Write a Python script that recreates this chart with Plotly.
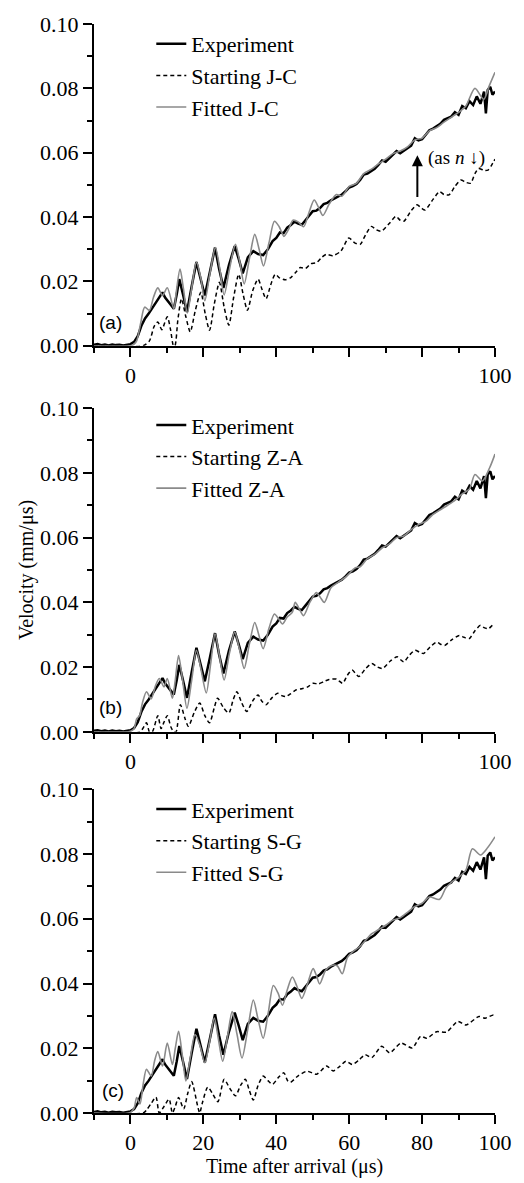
import plotly.graph_objects as go

# ---------------- data ----------------
# Experiment (same measured record in all three panels)
exp_t = [-10, -9, -8, -7, -6, -5, -4, -3, -2, -1, 0, 1, 2, 3, 4, 5, 6, 7, 8, 8.8, 9.5, 10.1, 11, 11.9,
         12.7, 13.4, 14.4, 15.5, 16.8, 18.1, 19.2, 20.4, 21.8, 23.2, 24.3, 25.5, 27, 28.6, 29.7, 30.8,
         32.2, 33.7, 35, 36.4, 37.7, 39,
         40, 41, 42, 43, 44, 45, 46, 47, 48, 49, 50, 51, 52, 53, 54, 55, 56, 57, 58, 59,
         60, 61, 62, 63, 64, 65, 66, 67, 68, 69, 70, 71, 72, 73, 74, 75, 76, 77, 78, 79,
         80, 81, 82, 83, 84, 85, 86, 87, 88, 89, 90, 91, 92, 93, 94, 95, 96, 97, 97.5, 98, 98.7, 99.3, 100]
exp_v = [0.0003, 0.0005, 0.0002, 0.0004, 0.0001, 0.0004, 0.0002, 0.0003, 0.0001, 0.0004, 0.0005,
         0.0012, 0.0030, 0.0062, 0.0085, 0.0100, 0.0118, 0.0135, 0.0150, 0.0166, 0.0150, 0.0142,
         0.0128, 0.0115, 0.0160, 0.0207, 0.0160, 0.0105, 0.0185, 0.0260, 0.0210, 0.0156, 0.0230,
         0.0305, 0.0240, 0.0180, 0.0250, 0.0310, 0.0270, 0.0225, 0.0275, 0.0294, 0.0285, 0.0282,
         0.0300, 0.0325,
         0.0335, 0.0352, 0.0350, 0.0367, 0.0375, 0.0386, 0.0380, 0.0376, 0.0390, 0.0405,
         0.0418, 0.0420, 0.0428, 0.0440, 0.0444, 0.0452, 0.0458, 0.0465, 0.0470, 0.0480,
         0.0492, 0.0496, 0.0503, 0.0515, 0.0532, 0.0535, 0.0542, 0.0550, 0.0562, 0.0576,
         0.0572, 0.0582, 0.0595, 0.0605, 0.0598, 0.0606, 0.0612, 0.0622, 0.0645, 0.0638,
         0.0642, 0.0658, 0.0670, 0.0675, 0.0683, 0.0690, 0.0702, 0.0708, 0.0712, 0.0726,
         0.0718, 0.0745, 0.0738, 0.0760, 0.0748, 0.0775, 0.0752, 0.0790, 0.0722, 0.0795,
         0.0805, 0.0780, 0.0790]

# (a) Johnson-Cook
start_jc_t = [-10, 3.5, 5.2, 6.5, 7.5, 8.6, 10.1, 11, 11.8, 12.2, 13, 14, 15.2, 16.4, 17.8, 19.3, 20.5,
              21.7, 23, 24.4, 25.7, 27, 28.3, 29.7, 30.9, 32.1, 33.5, 35, 36.1, 37.2, 38.5, 39.7, 41,
              42.5, 44, 45.5, 46.6, 48, 49.5, 51, 52.5, 53.7, 55.5, 57.7, 59.9, 61.5, 63, 64.5, 66.1,
              67.5, 68.8, 71, 72.8, 74, 75, 77, 78.6, 79.8, 80.8, 83, 84.8, 86, 87.4, 89, 90.6, 92,
              93.3, 94.5, 95.5, 97, 98.1, 99, 100]
start_jc_v = [0, 0, 0.0015, 0.0060, 0.0074, 0.0050, 0.0090, 0.0050, 0.0, 0.0, 0.0080, 0.0146, 0.0090,
              0.0043, 0.0110, 0.0166, 0.0100, 0.0048, 0.0130, 0.0197, 0.0120, 0.0064, 0.0150, 0.0222,
              0.0160, 0.0110, 0.0170, 0.0207, 0.0175, 0.0146, 0.0190, 0.0222, 0.0210, 0.0205, 0.0212,
              0.0230, 0.0243, 0.0240, 0.0255, 0.0258, 0.0275, 0.0284, 0.0280, 0.0294, 0.0335, 0.0320,
              0.0315, 0.0345, 0.0371, 0.0360, 0.0356, 0.0380, 0.0402, 0.0390, 0.0387, 0.0420, 0.0438,
              0.0428, 0.0422, 0.0455, 0.0479, 0.0470, 0.0469, 0.0495, 0.0515, 0.0508, 0.0505, 0.0535,
              0.0551, 0.0545, 0.0546, 0.0560, 0.0580]
fit_jc_t = [-10, 0, 1, 1.7, 2.8, 3.9, 5.2, 6.3, 7.5, 8.8, 10.1, 11.9, 12.6, 13.6, 14.5, 15.6, 16.8, 18.1,
            19.3, 20.4, 21.8, 23.3, 24.5, 25.7, 27.2, 28.8, 30, 31.2, 32.7, 34.1, 35.3, 36.5, 38, 39.5,
            40.8, 42.1, 43.3, 44.6, 46, 47.5, 49, 50.4, 51.6, 52.8, 54.5, 56.5, 58, 60, 62, 64, 66, 68,
            70, 72, 74, 76, 78, 80, 82, 84, 86, 88, 90, 92, 94.5, 96.9, 98.5, 100]
fit_jc_v = [0, 0, 0.0005, 0.0015, 0.0070, 0.0120, 0.0110, 0.0150, 0.0180, 0.0156, 0.0180, 0.0115,
            0.0170, 0.0238, 0.0180, 0.0102, 0.0180, 0.0260, 0.0210, 0.0140, 0.0225, 0.0305, 0.0240,
            0.0158, 0.0240, 0.0315, 0.0260, 0.0192, 0.0275, 0.0346, 0.0300, 0.0248, 0.0320, 0.0387,
            0.0370, 0.0340, 0.0360, 0.0390, 0.0385, 0.0370, 0.0415, 0.0453, 0.0430, 0.0405, 0.0440,
            0.0470, 0.0465, 0.0495, 0.0505, 0.0535, 0.0548, 0.0565, 0.0580, 0.0597, 0.0605, 0.0618,
            0.0640, 0.0645, 0.0668, 0.0678, 0.0695, 0.0710, 0.0725, 0.0745, 0.0800, 0.0766, 0.0810,
            0.0850]

# (b) Zerilli-Armstrong
start_za_t = [-10, 2.6, 4.4, 5.2, 6, 7.5, 8.4, 9.2, 10.1, 11.1, 11.9, 12.5, 13.7, 15, 15.9, 17.5, 19,
              20.4, 21.7, 23, 23.9, 25.5, 27, 28.2, 29.2, 30.5, 31.9, 33.5, 35, 36, 37.2, 38.8, 40.4,
              41.5, 42.6, 44, 45.5, 47, 48.5, 50.1, 51.5, 53, 54.5, 56.5, 58.2, 59.5, 60.8, 62.6, 64.5,
              66.2, 67.8, 69.2, 71.2, 73.2, 74.2, 75, 76.6, 78.1, 79.3, 80.4, 82.2, 84, 85.2, 86.2,
              88.2, 90.2, 91.5, 92.9, 94.5, 96, 97, 98.2, 99.2, 100]
start_za_v = [0, 0, 0.0028, 0, 0, 0.0050, 0.0010, 0.0030, 0.0050, 0.0015, 0, 0, 0.0084, 0.0040, 0.0017,
              0.0060, 0.0089, 0.0050, 0.0028, 0.0075, 0.0104, 0.0075, 0.0058, 0.0100, 0.0124, 0.0090,
              0.0063, 0.0095, 0.0114, 0.0095, 0.0084, 0.0105, 0.0119, 0.0112, 0.0109, 0.0118, 0.0130,
              0.0133, 0.0138, 0.0150, 0.0148, 0.0155, 0.0162, 0.0163, 0.0150, 0.0175, 0.0191, 0.0171,
              0.0195, 0.0211, 0.0200, 0.0196, 0.0218, 0.0232, 0.0222, 0.0216, 0.0238, 0.0252, 0.0246,
              0.0242, 0.0262, 0.0277, 0.0270, 0.0267, 0.0285, 0.0298, 0.0292, 0.0288, 0.0312, 0.0329,
              0.0322, 0.0319, 0.0328, 0.0334]
fit_za_t = [-10, 0, 1, 1.7, 2.5, 3.3, 4.4, 5.7, 6.8, 7.9, 9.2, 10.1, 11.5, 12.3, 13.2, 14.3, 15.5, 16.8,
            18.1, 19.4, 20.8, 22, 23.2, 24.4, 25.7, 27.1, 28.6, 29.9, 31.2, 32.6, 34.1, 35.2, 36.4, 38,
            39.5, 40.6, 41.7, 43, 44.4, 45.2, 46.3, 47.5, 49.2, 51, 52.1, 53.2, 55, 57, 59, 61.7, 63,
            65, 67, 69, 71, 73, 75, 77, 79, 81, 83, 85, 87, 89, 91, 93, 94.5, 96.5, 98.5, 100]
fit_za_v = [0, 0.0002, 0.0010, 0.0040, 0.0050, 0.0090, 0.0124, 0.0102, 0.0140, 0.0165, 0.0139, 0.0165,
            0.0104, 0.0160, 0.0236, 0.0160, 0.0073, 0.0160, 0.0252, 0.0190, 0.0120, 0.0210, 0.0303,
            0.0235, 0.0160, 0.0240, 0.0308, 0.0255, 0.0196, 0.0270, 0.0338, 0.0300, 0.0257, 0.0320,
            0.0364, 0.0350, 0.0333, 0.0355, 0.0369, 0.0400, 0.0380, 0.0359, 0.0400, 0.0430, 0.0415,
            0.0400, 0.0445, 0.0462, 0.0478, 0.0507, 0.0510, 0.0535, 0.0548, 0.0568, 0.0580, 0.0600,
            0.0605, 0.0625, 0.0640, 0.0650, 0.0672, 0.0686, 0.0700, 0.0715, 0.0735, 0.0750, 0.0795,
            0.0775, 0.0815, 0.0858]

# (c) Steinberg-Guinan
start_sg_t = [-10, 3.5, 4.4, 5.7, 7, 7.9, 9.2, 10.6, 11.5, 12.3, 13.2, 14.6, 15.7, 16.8, 18.4, 19, 19.7,
              21.2, 22.5, 24, 25.7, 27.3, 28.8, 30.2, 31.5, 32.6, 33.7, 35, 36.4, 37.7, 39, 40.6, 42.1,
              43.1, 43.9, 46, 48.4, 51.1, 53.8, 55.6, 57.5, 59.1, 60.9, 62.8, 64.4, 66.2, 68.9, 71.1,
              74.2, 77.3, 79.6, 81.3, 84, 86.7, 89.8, 92, 95.6, 97.3, 99.6, 100]
start_sg_v = [0, 0, 0.0009, 0.0030, 0.0049, 0, 0.0020, 0.0043, 0, 0.0020, 0.0048, 0.0013, 0.0060,
              0.0097, 0.0023, 0, 0.0030, 0.0080, 0.0060, 0.0035, 0.0104, 0.0075, 0.0053, 0.0085,
              0.0104, 0.0070, 0.0040, 0.0085, 0.0114, 0.0100, 0.0089, 0.0110, 0.0124, 0.0100, 0.0095,
              0.0115, 0.0129, 0.0120, 0.0145, 0.0130, 0.0145, 0.0160, 0.0150, 0.0165, 0.0180, 0.0171,
              0.0206, 0.0186, 0.0216, 0.0201, 0.0237, 0.0231, 0.0251, 0.0250, 0.0283, 0.0272, 0.0298,
              0.0293, 0.0303, 0.0296]
fit_sg_t = [-10, 0, 1, 1.7, 2.6, 3.5, 4.4, 5.7, 6.6, 7.5, 8.8, 10.1, 11.5, 12.3, 13.2, 14.2, 15.2, 16.4,
            17.7, 19, 20.4, 21.7, 23, 24.1, 25.3, 26.6, 27.9, 29.2, 30.6, 32.2, 33.7, 35, 36.4, 37.8,
            39.2, 40.5, 41.7, 43, 44.4, 45.7, 47, 48.6, 50.1, 51, 51.9, 53.5, 55, 56.7, 58.1, 59.5, 61,
            63, 65, 66.1, 68, 70, 72, 74, 76, 78, 80, 82, 84.8, 86.5, 88, 90, 92, 93.8, 96, 98, 100]
fit_sg_v = [0, 0.0002, 0.0015, 0.0048, 0.0028, 0.0090, 0.0135, 0.0114, 0.0160, 0.0190, 0.0145, 0.0216,
            0.0150, 0.0200, 0.0252, 0.0180, 0.0099, 0.0170, 0.0242, 0.0210, 0.0155, 0.0220, 0.0293,
            0.0230, 0.0160, 0.0235, 0.0313, 0.0245, 0.0170, 0.0260, 0.0349, 0.0290, 0.0231, 0.0310,
            0.0394, 0.0370, 0.0333, 0.0380, 0.0420, 0.0390, 0.0354, 0.0400, 0.0446, 0.0425, 0.0399,
            0.0440, 0.0455, 0.0455, 0.0430, 0.0480, 0.0498, 0.0515, 0.0540, 0.0553, 0.0566, 0.0580,
            0.0596, 0.0603, 0.0620, 0.0638, 0.0648, 0.0667, 0.0660, 0.0695, 0.0712, 0.0728, 0.0750,
            0.0816, 0.0797, 0.0820, 0.0853]

model_names = ["J-C", "Z-A", "S-G"]
panel_labels = ["(a)", "(b)", "(c)"]
x_major = [0, 20, 40, 60, 80, 100]
x_minor = [-10, 10, 30, 50, 70, 90]
y_major = [0.0, 0.02, 0.04, 0.06, 0.08, 0.10]
y_minor = [0.01, 0.03, 0.05, 0.07, 0.09]

# ---------------- figure ----------------
W, H = 524, 1183
ML, MR, MT, MB = 94, 17, 24, 59
plot_h = H - MT - MB
# panel pixel spans (top, bottom) in page coordinates
spans = [(24, 349), (412, 739), (797, 1124)]
domains = [[1 - (b - MT) / plot_h, 1 - (t - MT) / plot_h] for t, b in spans]

serif = "Liberation Serif, Times New Roman, serif"
sans = "Liberation Sans, Arial, sans-serif"

starts = [(start_jc_t, start_jc_v), (start_za_t, start_za_v), (start_sg_t, start_sg_v)]
fits = [(fit_jc_t, fit_jc_v), (fit_za_t, fit_za_v), (fit_sg_t, fit_sg_v)]

fig = go.Figure()
legend_ids = ["legend", "legend2", "legend3"]
for i in range(3):
    xa = "x" if i == 0 else f"x{i+1}"
    ya = "y" if i == 0 else f"y{i+1}"
    lg = legend_ids[i]
    fig.add_trace(go.Scatter(x=exp_t, y=exp_v, mode="lines", name="Experiment",
                             line=dict(color="black", width=2.5), xaxis=xa, yaxis=ya, legend=lg))
    fig.add_trace(go.Scatter(x=starts[i][0], y=starts[i][1], mode="lines",
                             name="Starting " + model_names[i],
                             line=dict(color="black", width=1.5, dash="4px,3px",
                                       shape="spline", smoothing=0.7),
                             xaxis=xa, yaxis=ya, legend=lg))
    fig.add_trace(go.Scatter(x=fits[i][0], y=fits[i][1], mode="lines",
                             name="Fitted " + model_names[i],
                             line=dict(color="#8a8a8a", width=1.6, shape="spline", smoothing=0.8),
                             xaxis=xa, yaxis=ya, legend=lg))

layout = dict(width=W, height=H, margin=dict(l=ML, r=MR, t=MT, b=MB),
              paper_bgcolor="white", plot_bgcolor="white", showlegend=True,
              font=dict(family=serif, size=22, color="black"))

for i in range(3):
    xk = "xaxis" if i == 0 else f"xaxis{i+1}"
    yk = "yaxis" if i == 0 else f"yaxis{i+1}"
    ya = "y" if i == 0 else f"y{i+1}"
    xa = "x" if i == 0 else f"x{i+1}"
    if i < 2:
        ttext = ["0", "", "", "", "", "100"]
    else:
        ttext = [str(v) for v in x_major]
    layout[xk] = dict(domain=[0, 1], anchor=ya, range=[-10, 100], showgrid=False, zeroline=False,
                      showline=True, linecolor="black", linewidth=2,
                      tickmode="array", tickvals=x_major, ticktext=ttext,
                      ticks="outside", ticklen=9, tickwidth=2, tickcolor="black",
                      minor=dict(tickmode="array", tickvals=x_minor, ticks="outside",
                                 ticklen=5, tickwidth=2, tickcolor="black"),
                      tickfont=dict(family=serif, size=22))
    layout[yk] = dict(domain=domains[i], anchor=xa, range=[0, 0.1], showgrid=False, zeroline=False,
                      showline=True, linecolor="black", linewidth=2,
                      tickmode="array", tickvals=y_major, ticktext=[f"{v:.2f}" for v in y_major],
                      ticks="outside", ticklen=9, tickwidth=2, tickcolor="black",
                      minor=dict(tickmode="array", tickvals=y_minor, ticks="outside",
                                 ticklen=5, tickwidth=2, tickcolor="black"),
                      tickfont=dict(family=serif, size=22))

layout["yaxis2"]["title"] = dict(text="Velocity (mm/μs)", font=dict(family=serif, size=20), standoff=1)
layout["xaxis3"]["title"] = dict(text="Time after arrival (μs)", font=dict(family=serif, size=20), standoff=2)

# legends (one per panel)
legend_first_row = [45, 430, 818]
for i in range(3):
    top_px = legend_first_row[i] - 22
    layout[legend_ids[i]] = dict(x=(153 - ML) / (W - ML - MR), y=1 - (top_px - MT) / plot_h,
                                 xanchor="left", yanchor="top", bgcolor="rgba(0,0,0,0)",
                                 font=dict(family=serif, size=22, color="black"),
                                 tracegroupgap=0, itemwidth=30)

annotations = []
label_pos = [(-5.6, 0.0071), (-5.4, 0.0076), (-4.8, 0.0070)]
for i in range(3):
    xa = "x" if i == 0 else f"x{i+1}"
    ya = "y" if i == 0 else f"y{i+1}"
    annotations.append(dict(x=label_pos[i][0], y=label_pos[i][1], xref=xa, yref=ya,
                            text=panel_labels[i], showarrow=False,
                            font=dict(family=sans, size=19, color="black")))
# arrow and note in panel (a)
annotations.append(dict(x=78.7, y=0.0592, ax=78.7, ay=0.0458, xref="x", yref="y", axref="x", ayref="y",
                        text="", showarrow=True, arrowhead=2, arrowsize=1.1, arrowwidth=2,
                        arrowcolor="black"))
annotations.append(dict(x=89.5, y=0.0583, xref="x", yref="y", text="(as <i>n</i> ↓)",
                        showarrow=False, font=dict(family=serif, size=19, color="black")))
layout["annotations"] = annotations

fig.update_layout(**layout)
fig.write_html("out.html", config={"displayModeBar": False},
               post_script="document.body.style.margin='0px';document.body.style.overflow='hidden';")
